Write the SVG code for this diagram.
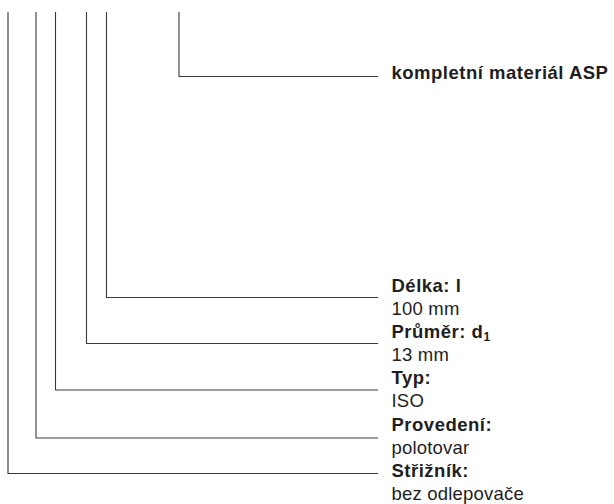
<svg xmlns="http://www.w3.org/2000/svg" width="614" height="504" viewBox="0 0 614 504">
<style>
.ln{fill:none;stroke:#3a3a3a;stroke-width:1.1}
text{font-family:"Liberation Sans",Arial,sans-serif;font-size:18.5px;fill:#1e1e1e}
.b{font-weight:bold;letter-spacing:0.5px}
.r{letter-spacing:0.2px}
</style>
<rect width="614" height="504" fill="#fff"/>
<g id="connectors">
<polyline class="ln" points="179,12 179,76.5 378,76.5"/>
<polyline class="ln" points="106.5,12 106.5,297.5 378,297.5"/>
<polyline class="ln" points="86.5,12 86.5,343.5 378,343.5"/>
<polyline class="ln" points="55.5,12 55.5,390 378,390"/>
<polyline class="ln" points="36,12 36,438 378,438"/>
<polyline class="ln" points="8,12 8,473.5 378,473.5"/>
</g>
<g id="material"><text class="b" x="391.5" y="78.5">kompletní materiál ASP</text></g>
<g id="delka"><text class="b" x="391.5" y="291.7">Délka: l</text><text class="r" x="391.5" y="314.8">100 mm</text></g>
<g id="prumer"><text class="b" x="391.5" y="338">Průměr: d<tspan font-size="12" dy="3">1</tspan></text><text class="r" x="391.5" y="361.1">13 mm</text></g>
<g id="typ"><text class="b" x="391.5" y="384.3">Typ:</text><text class="r" x="391.5" y="407.4">ISO</text></g>
<g id="provedeni"><text class="b" x="391.5" y="430.6">Provedení:</text><text class="r" x="391.5" y="453.7">polotovar</text></g>
<g id="striznik"><text class="b" x="391.5" y="476.9">Střižník:</text><text class="r" x="391.5" y="500">bez odlepovače</text></g>
</svg>
